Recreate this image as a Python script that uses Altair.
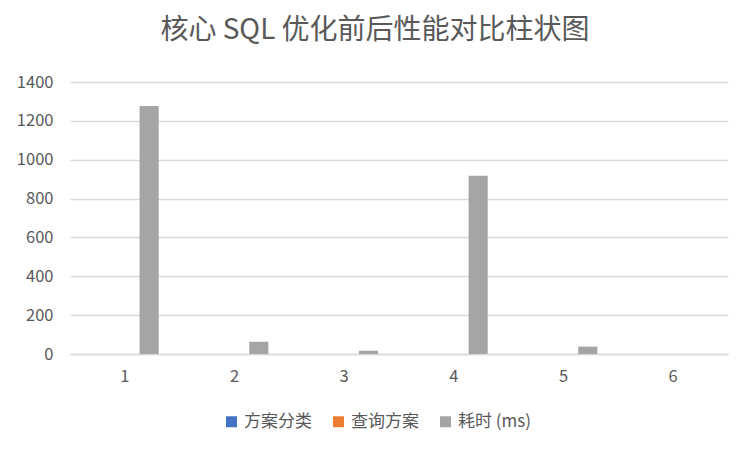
import altair as alt
import pandas as pd

categories = ["1", "2", "3", "4", "5", "6"]
series_names = ["方案分类", "查询方案", "耗时 (ms)"]
scheme_class = [0, 0, 0, 0, 0, 0]
query_scheme = [0, 0, 0, 0, 0, 0]
elapsed_ms = [1277, 63, 17, 917, 38, 0]
series_colors = ["#4472C4", "#ED7D31", "#A5A5A5"]

rows = []
for vals, name in zip([scheme_class, query_scheme, elapsed_ms], series_names):
    for c, v in zip(categories, vals):
        rows.append({"cat": c, "series": name, "value": v})
df = pd.DataFrame(rows)

FONT = "Noto Sans CJK SC"
TXT = "#595959"

chart = alt.Chart(df).mark_bar().encode(
    x=alt.X("cat:N", sort=categories,
            scale=alt.Scale(paddingInner=0, paddingOuter=0),
            axis=alt.Axis(title=None, labelAngle=0, ticks=False, domain=True,
                          domainColor="#D9D9D9", domainWidth=1.5,
                          labelFontSize=16.5, labelColor=TXT, labelFont=FONT,
                          labelPadding=14, grid=False)),
    xOffset=alt.XOffset("series:N", sort=series_names,
                        scale=alt.Scale(paddingInner=0.2125, paddingOuter=0.862)),
    y=alt.Y("value:Q",
            scale=alt.Scale(domain=[0, 1400], nice=False),
            axis=alt.Axis(title=None, values=[0, 200, 400, 600, 800, 1000, 1200, 1400],
                          format="d",
                          ticks=False, domain=False, gridColor="#D9D9D9", gridWidth=1.3,
                          labelFontSize=16.5, labelColor=TXT, labelFont=FONT,
                          labelPadding=17)),
    color=alt.Color("series:N", sort=series_names,
                    scale=alt.Scale(domain=series_names, range=series_colors),
                    legend=alt.Legend(title=None, orient="none", direction="horizontal",
                                      legendX=153, legendY=331,
                                      symbolType="square", symbolSize=120,
                                      symbolStrokeWidth=0,
                                      labelFontSize=17, labelColor=TXT, labelFont=FONT,
                                      labelOffset=4, columnPadding=18)),
).properties(
    width=658,
    height=272,
    padding={"left": 62, "top": 74, "right": 16, "bottom": 90},
    autosize=alt.AutoSizeParams(type="none"),
    title=alt.TitleParams("核心 SQL 优化前后性能对比柱状图", fontSize=28, font=FONT,
                          color=TXT, fontWeight="normal", anchor="middle",
                          dx=-24, offset=29),
).configure(background="white").configure_view(strokeWidth=0, stroke="transparent")

chart.save("out.html", embed_options={"renderer": "svg", "actions": False})
